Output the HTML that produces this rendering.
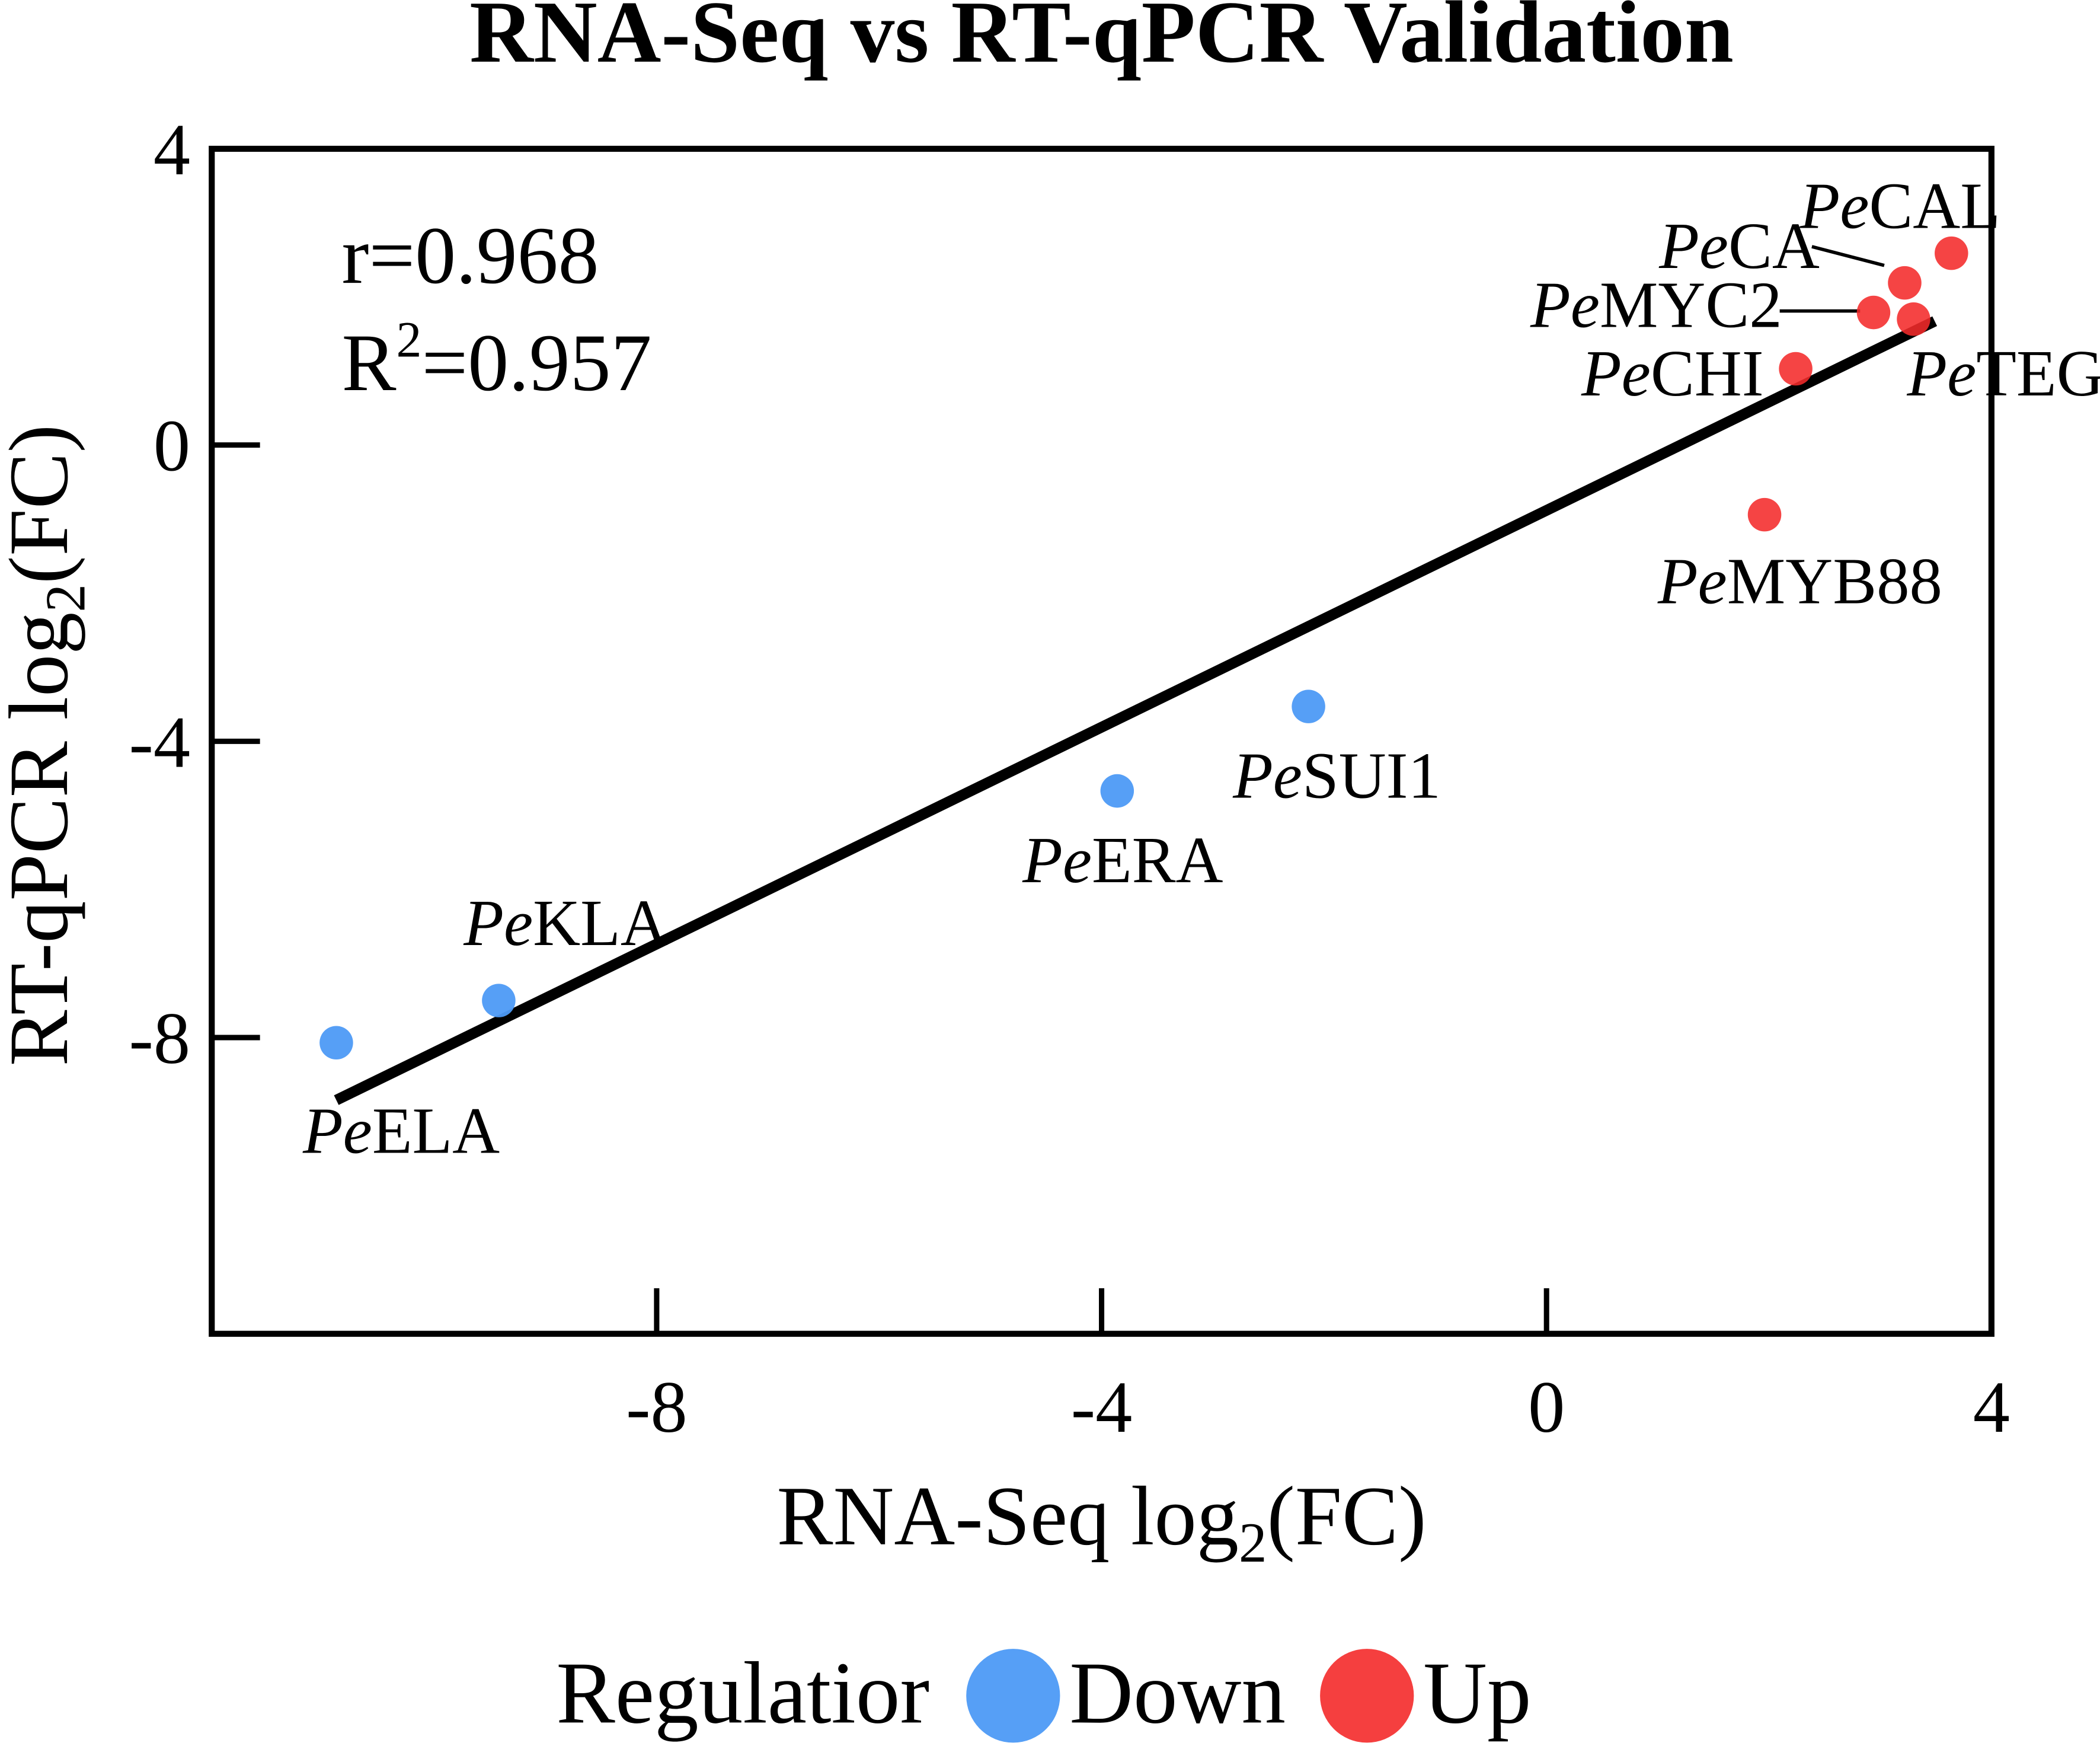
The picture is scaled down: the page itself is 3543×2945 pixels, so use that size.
<!DOCTYPE html>
<html><head><meta charset="utf-8"><style>
html,body{margin:0;padding:0;background:#fff}
svg{display:block;font-family:"Liberation Serif",serif}
</style></head><body>
<svg id="chart" width="3543" height="2945" viewBox="0 0 1567 1302.5" preserveAspectRatio="none" xmlns="http://www.w3.org/2000/svg">
<text x="822" y="46" font-size="66" font-weight="bold" text-anchor="middle">RNA-Seq vs RT-qPCR Validation</text>
<g id="plot"></g>
<text x="822" y="1152" font-size="63" text-anchor="middle">RNA-Seq log<tspan font-size="42" dy="13">2</tspan><tspan dy="-13">(FC)</tspan></text>
<text transform="translate(50,556) rotate(-90)" font-size="63" text-anchor="middle">RT-qPCR log<tspan font-size="42" dy="13">2</tspan><tspan dy="-13">(FC)</tspan></text>
<text x="255" y="211" font-size="61">r=0.968</text>
<text x="255" y="291" font-size="61">R<tspan font-size="38" dy="-25">2</tspan><tspan dy="25">=0.957</tspan></text>
<g>
<text x="415" y="1285" font-size="66">Regulatior</text>
<circle cx="756" cy="1265" r="35" fill="#4d9af5" fill-opacity="0.95"/>
<text x="798" y="1285" font-size="66">Down</text>
<circle cx="1020" cy="1265" r="35" fill="#f42a2a" fill-opacity="0.9"/>
<text x="1062" y="1285" font-size="66">Up</text>
</g>
</svg>
<script>
const genes=["ELA","KLA","ERA","SUI1","MYB88","CHI","MYC2","TEG","CA","CAL"];
const rnaSeq=[-10.88,-9.42,-3.86,-2.14,1.96,2.24,2.94,3.30,3.22,3.64];
const qpcr=[-8.07,-7.5,-4.67,-3.53,-0.94,1.03,1.79,1.70,2.19,2.59];
const regulation=["Down","Down","Down","Down","Up","Up","Up","Up","Up","Up"];
const xTicks=[-8,-4,0,4];
const yTicks=[4,0,-4,-8];
const labelPos={ELA:[226,860],KLA:[346,705],ERA:[763,658],SUI1:[920,595],MYB88:[1237,450],CHI:[1180,295],MYC2:[1142,244],TEG:[1423,295],CA:[1238,200],CAL:[1343,170]};
const L=158,R=1486,T=111,B=995,xMin=-12,xMax=4,yMin=-12,yMax=4;
const sx=v=>L+(v-xMin)/(xMax-xMin)*(R-L);
const sy=v=>B-(v-yMin)/(yMax-yMin)*(B-T);
const NS="http://www.w3.org/2000/svg";
const g=document.getElementById('plot');
function mk(t,a){const e=document.createElementNS(NS,t);for(const k in a)e.setAttribute(k,a[k]);g.appendChild(e);return e;}
let e=mk('rect',{x:L,y:T,width:R-L,height:B-T,fill:'none',stroke:'#000','stroke-width':4.5});


xTicks.forEach(v=>{
 if(v<xMax){const t=mk('line',{x1:sx(v),x2:sx(v),y1:B,y2:B-34,stroke:'#000','stroke-width':4});
 
 }
 const l=mk('text',{x:sx(v),y:1068,'font-size':55,'text-anchor':'middle'});l.textContent=v;
 
 
});
yTicks.forEach(v=>{
 if(v<yMax){const t=mk('line',{x1:L,x2:L+36,y1:sy(v),y2:sy(v),stroke:'#000','stroke-width':4});
 
 }
 const l=mk('text',{x:142,y:sy(v)+19,'font-size':55,'text-anchor':'end'});l.textContent=v;
 
 
});
const n=rnaSeq.length,mx=rnaSeq.reduce((a,b)=>a+b)/n,my=qpcr.reduce((a,b)=>a+b)/n;
let sxy=0,sxx=0;for(let i=0;i<n;i++){sxy+=(rnaSeq[i]-mx)*(qpcr[i]-my);sxx+=(rnaSeq[i]-mx)**2;}
const b=sxy/sxx,a=my-b*mx;
const x0=Math.min(...rnaSeq),x1=3.49;
const rl=mk('line',{x1:sx(x0),y1:sy(a+b*x0),x2:sx(x1),y2:sy(a+b*x1),stroke:'#000','stroke-width':8});


const l1=mk('line',{x1:1352,y1:184,x2:1406,y2:198,stroke:'#000','stroke-width':2.5});


const l2=mk('line',{x1:1328,y1:232,x2:1388,y2:232,stroke:'#000','stroke-width':2.5});


for(let i=0;i<n;i++){
 const up=regulation[i]==="Up";
 const c=mk('circle',{cx:sx(rnaSeq[i]),cy:sy(qpcr[i]),r:12.5,fill:up?'#f42a2a':'#4d9af5','fill-opacity':up?0.88:0.95});
 
 
 const p=labelPos[genes[i]];
 const t=mk('text',{x:p[0],y:p[1],'font-size':49});
 t.innerHTML='<tspan font-style="italic">Pe</tspan>'+genes[i];
 
 
}
</script>
</body></html>
